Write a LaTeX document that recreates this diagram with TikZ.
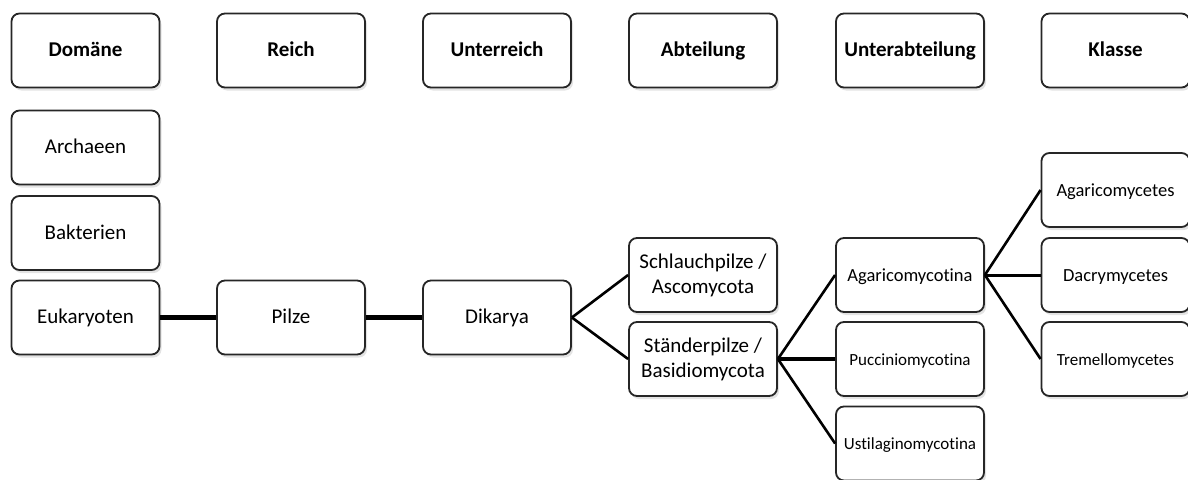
\documentclass[tikz,border=0pt]{standalone}
\usepackage{fontspec}
\setmainfont[Ligatures=CommonOff]{Carlito}
\usetikzlibrary{shadows}
\begin{document}
\begin{tikzpicture}[x=1pt,y=-1pt,
  box/.style={draw=black!85, line width=1.8pt, rounded corners=8pt, fill=white,
    minimum width=148pt, minimum height=74pt, inner sep=0pt, align=center,
    drop shadow={opacity=0.22, shadow xshift=2pt, shadow yshift=-3pt},
    font=\fontsize{21}{25}\selectfont},
  one/.style={text height=1.2em, text depth=0pt},
  head/.style={box, one, font=\fontsize{21}{25}\selectfont\bfseries},
  single/.style={box, one},
  mid/.style={box, one, font=\fontsize{18.5}{22}\selectfont},
  small/.style={box, one, font=\fontsize{17}{20}\selectfont},
  link/.style={line width=2.6pt, black},
  thick link/.style={line width=5.5pt, black}]
\useasboundingbox (0,0) rectangle (1188,479);
\clip (0,0) rectangle (1188,479);
% header row
\node[head] (h1) at (85.5,50.5) {Domäne};
\node[head] (h2) at (291,50.5) {Reich};
\node[head] (h3) at (497,50.5) {Unterreich};
\node[head] (h4) at (703,50.5) {Abteilung};
\node[head] (h5) at (910,50.5) {Unterabteilung};
\node[head] (h6) at (1115.5,50.5) {Klasse};
% taxa
\node[single] (arch) at (85.5,147.5) {Archaeen};
\node[single] (bakt) at (85.5,233) {Bakterien};
\node[single] (euk) at (85.5,317.5) {Eukaryoten};
\node[single] (pilze) at (291,317.5) {Pilze};
\node[single] (dik) at (497,317.5) {Dikarya};
\node[box] (asco) at (703,275) {Schlauchpilze /\\Ascomycota};
\node[box] (basi) at (703,359) {Ständerpilze /\\Basidiomycota};
\node[mid] (agmt) at (910,275) {Agaricomycotina};
\node[small] (pucc) at (910,359) {Pucciniomycotina};
\node[small] (usti) at (910,443.5) {Ustilaginomycotina};
\node[mid] (agcs) at (1115.5,190) {Agaricomycetes};
\node[mid] (dacr) at (1115.5,275) {Dacrymycetes};
\node[small] (trem) at (1115.5,359) {Tremellomycetes};
% connectors
\draw[thick link] (euk.east) -- (pilze.west);
\draw[thick link, line width=4.5pt] (pilze.east) -- (dik.west);
\draw[link] (dik.east) -- (asco.west);
\draw[link] (dik.east) -- (basi.west);
\draw[link] (basi.east) -- (agmt.west);
\draw[link, line width=4pt] (basi.east) -- (pucc.west);
\draw[link] (basi.east) -- (usti.west);
\draw[link] (agmt.east) -- (agcs.west);
\draw[link, line width=3pt] (agmt.east) -- (dacr.west);
\draw[link] (agmt.east) -- (trem.west);
\end{tikzpicture}
\end{document}
